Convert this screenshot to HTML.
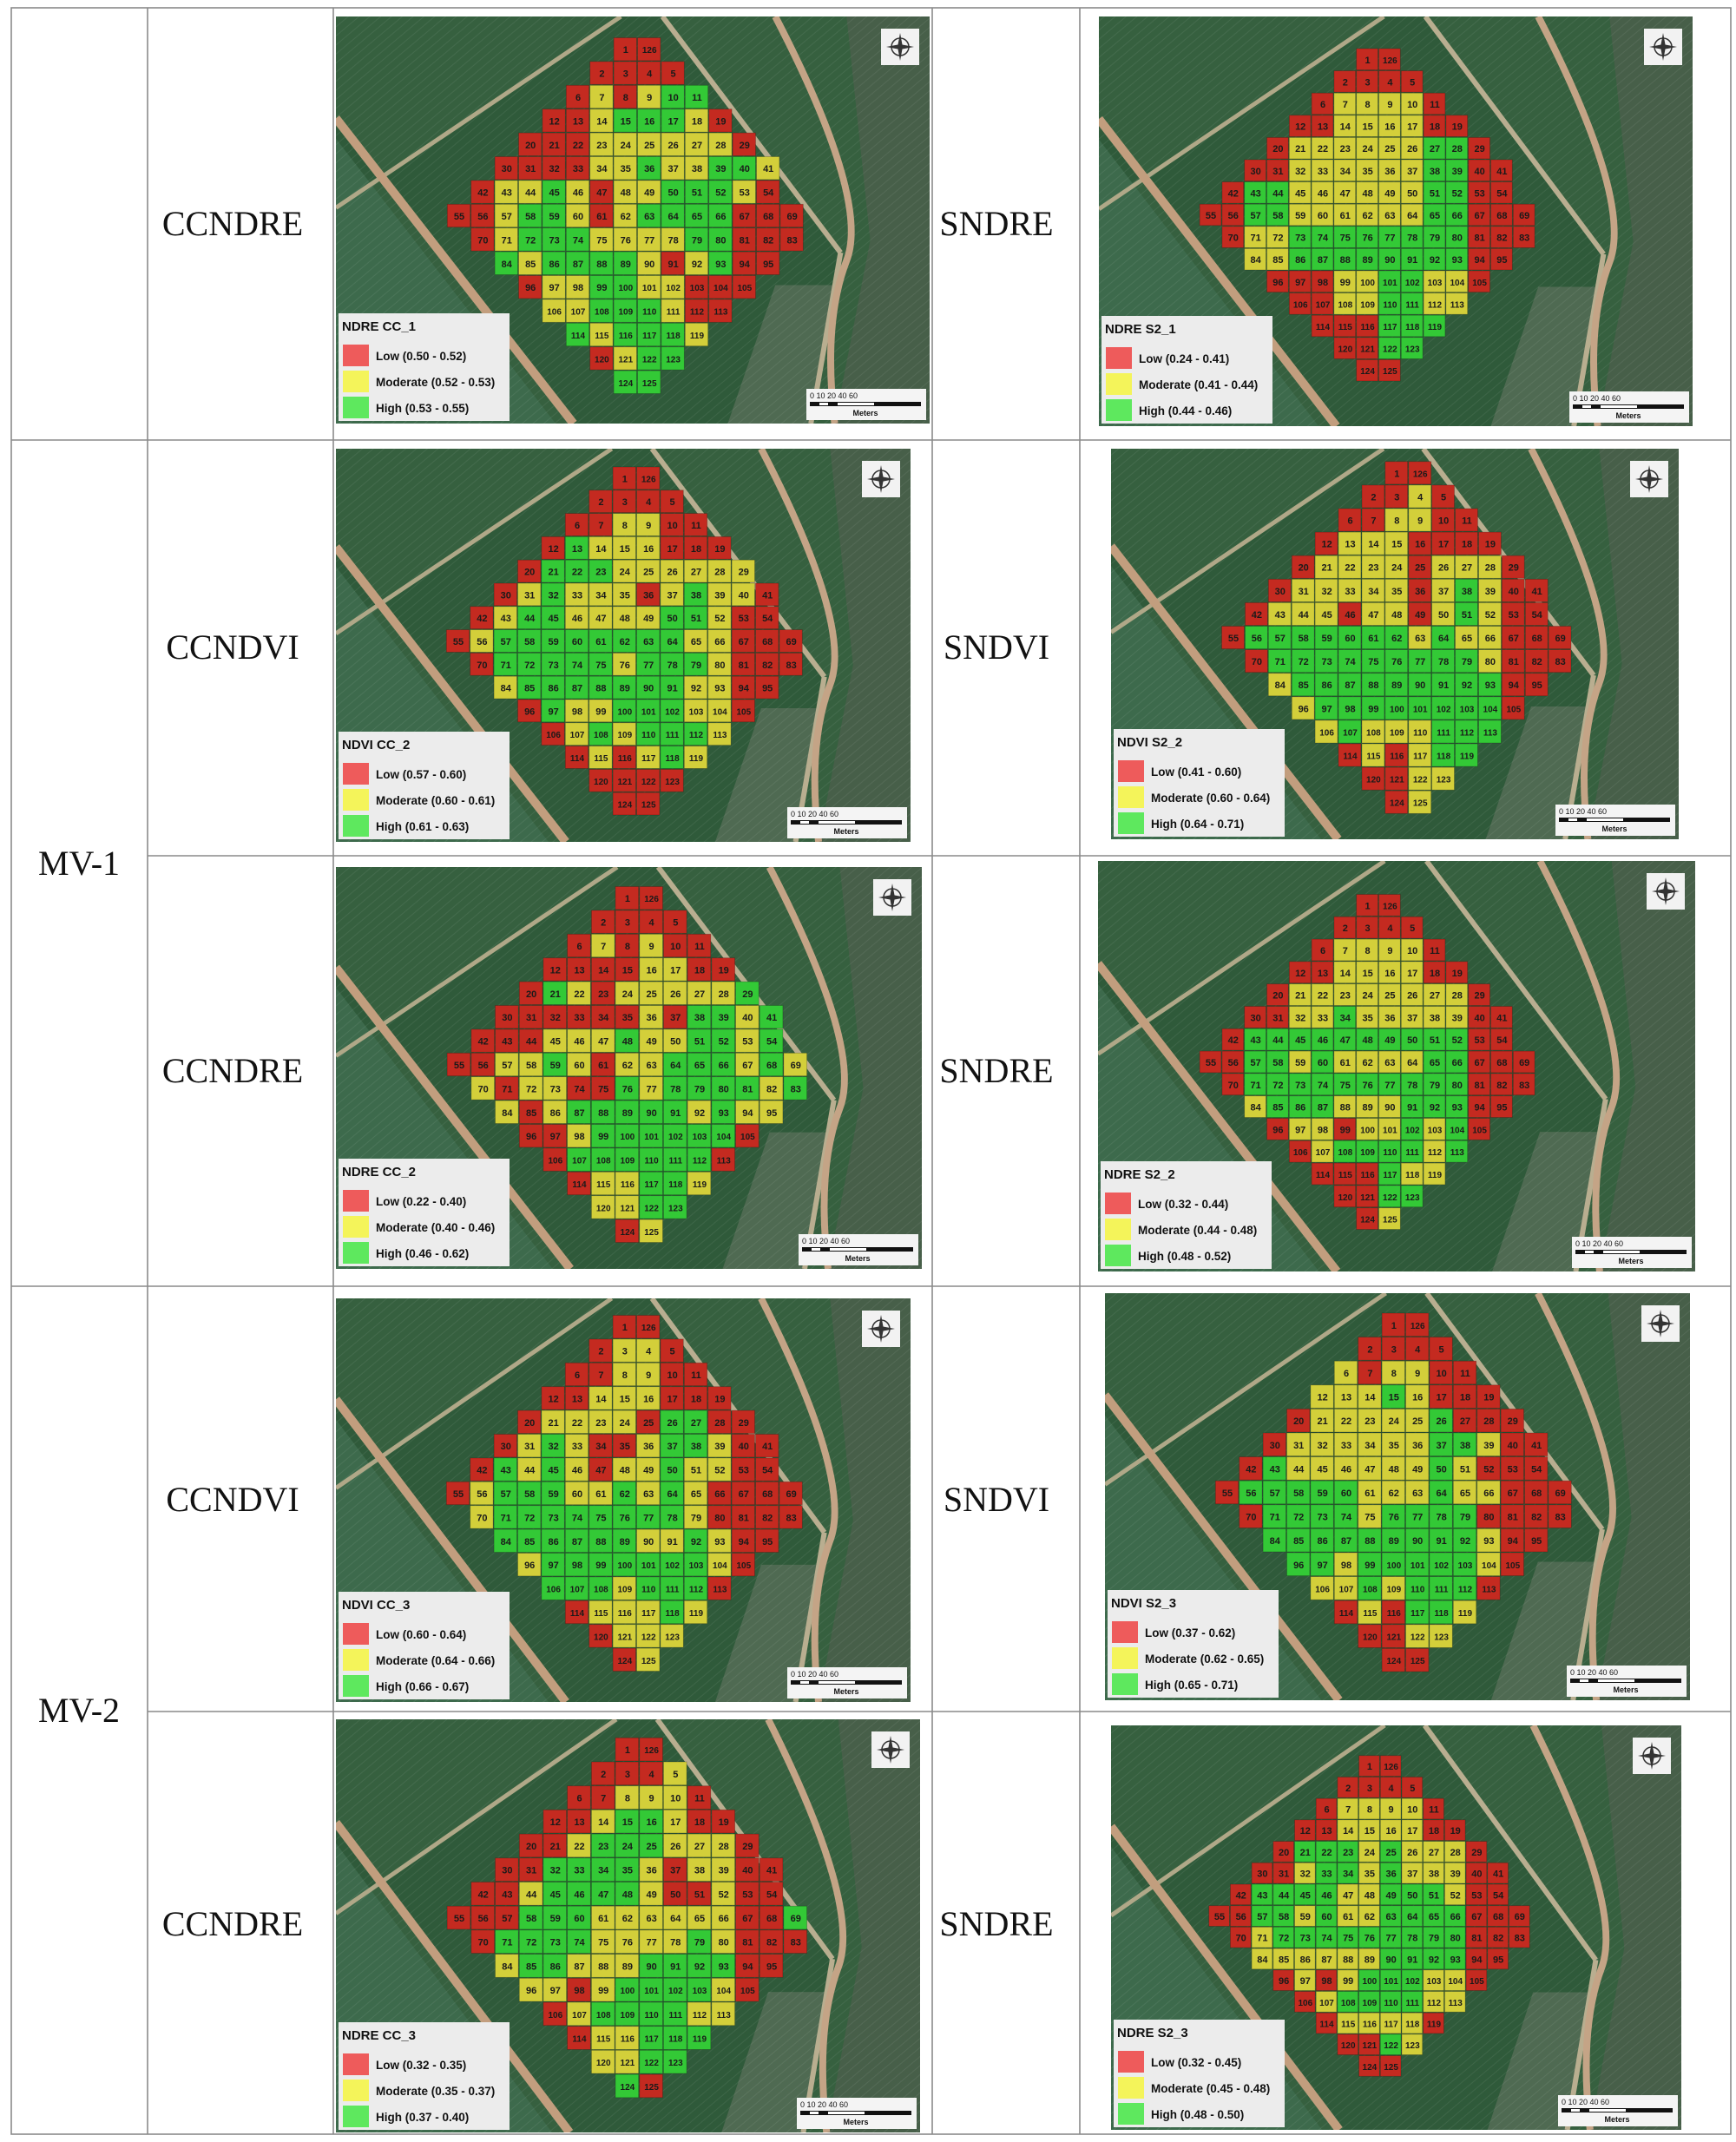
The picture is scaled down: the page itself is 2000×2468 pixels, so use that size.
<!DOCTYPE html>
<html><head><meta charset="utf-8"><title>NDRE / NDVI zone maps</title>
<style>
html,body{margin:0;padding:0;background:#fff;}
body{width:2000px;height:2468px;position:relative;overflow:hidden;font-family:"Liberation Sans",sans-serif;}
svg{position:absolute;left:0;top:0;}
</style></head>
<body>
<svg id="page" width="2000" height="2468" viewBox="0 0 2000 2468" xmlns="http://www.w3.org/2000/svg">
  <defs>
    <pattern id="rows" width="8" height="8" patternUnits="userSpaceOnUse" patternTransform="rotate(-40)">
      <rect width="8" height="8" fill="none"/>
      <line x1="0" y1="0" x2="8" y2="0" stroke="rgba(255,255,255,0.07)" stroke-width="2"/>
    </pattern>
  </defs>
  <g id="table-lines" stroke="#8a8a8a" stroke-width="1.6" fill="none">
    <rect x="13" y="9" width="1981" height="2450"/>
    <line x1="170" y1="9" x2="170" y2="2459"/>
    <line x1="384" y1="9" x2="384" y2="2459"/>
    <line x1="1074" y1="9" x2="1074" y2="2459"/>
    <line x1="1244" y1="9" x2="1244" y2="2459"/>
    <line x1="13" y1="507" x2="1994" y2="507"/>
    <line x1="170" y1="986" x2="1994" y2="986"/>
    <line x1="13" y1="1482" x2="1994" y2="1482"/>
    <line x1="170" y1="1972" x2="1994" y2="1972"/>
  </g>
  <g id="labels" font-family="Liberation Serif, serif" font-size="40" fill="#111" text-anchor="middle">
    <text x="91" y="1008">MV-1</text>
    <text x="91" y="1984">MV-2</text>
    <text x="268" y="271">CCNDRE</text>
    <text x="1148" y="271">SNDRE</text>
    <text x="268" y="759">CCNDVI</text>
    <text x="1148" y="759">SNDVI</text>
    <text x="268" y="1247">CCNDRE</text>
    <text x="1148" y="1247">SNDRE</text>
    <text x="268" y="1741">CCNDVI</text>
    <text x="1148" y="1741">SNDVI</text>
    <text x="268" y="2230">CCNDRE</text>
    <text x="1148" y="2230">SNDRE</text>
  </g>
  <g id="maps"></g>
</svg>
<script>
// ---- data: zone class per cell, row by row (R=Low, Y=Moderate, G=High) ----
const zonesCC1 = ["RR","RRRR","RYRYGG","RRYGGGYR","RRRYYYYYYR","RRRRYYGYYGGY","RYYGYRYYGGGYR","RRYGGYRYGGGGRRR","RYGGGYYYYGGRRR","GYGGGGYRYGRR","RYYGGYYRRR","YYGGGYRR","GYGGGY","RYGG","GG"];
const zonesS21 = ["RR","RRRR","RYYYYR","RRYYYYRR","RYYYYYYGGR","RRYYYYYYGGRR","RGGYYYYYYGGRR","RRGGYYYYYYGGRRR","RYYGGGGGGGGRRR","YYGGGGGGGGRR","RRRYYGGYYR","RRYYGGYY","RRRGGG","RRGG","RR"];
const zonesCC2v = ["RR","RRRR","RRYYRR","RGYYYRRR","RGGGYYYYYY","RYGYYYRYGYYR","RYGGYYYYGGYRR","RYGGGGGGGGYYRRR","RGGGGGYGGGYRRR","YGGGGGGGYYRR","RGYYGGGYYR","RYGYGGGY","RYRYGY","RRRR","RR"];
const zonesS22v = ["RR","RRYR","RRYYRR","RYYYRRRR","RYYYYRYYYR","RYYYYYRYGYRR","RYYYRYYRYGYRR","RGGGGGGGYGYYRRR","RGGGGGGGGGYRRR","YGGGGGGGGGRR","YGGGGGGGGR","YGYYYGGG","RYRYGG","RRYY","RY"];
const zonesCC2r = ["RR","RRRR","RYRYRR","RRRRYYRR","RGYRYYYYYG","RRRRRRYRGGYG","RRRYYYGYYGGYG","RRYYGYRYYGGGYGY","YRYYRRGYGGGGYG","YRYGGGGGYGYY","RRYGGGGGGR","RGGGGGGR","RYYGGY","YYGG","RY"];
const zonesS22r = ["RR","RRRR","RYYYYR","RRYYYYRR","RYYYYYYYYR","RRYYGYYYYYRR","RGGGGGGGGGGRR","RRGGYGYYYYGGRRR","RGGGGGGGGGGRRR","YGGGYYYGGGRR","RYYRYYGYGR","RYGGGGYG","RRRGYY","RRGG","RY"];
const zonesCC3v = ["RR","RYYR","RRYYRR","RRYYYRRR","RYYYYRGGRR","RYGYRRYGGYRR","RGYGYRYYGYYRR","RYGGGYYGYGYRRRR","YGGGGGGGGYRRRR","GGGGGGYYGYRR","YGGGGGGGYR","GGGYGGGR","RYYYGY","RYYY","RY"];
const zonesS23v = ["RR","RRRR","YRYYRR","YYYGYRRR","RYYYYYGRRR","RYYYYYYGGYRR","RGYYYYYYGYRRR","RGGGGGYYYGYYRRR","RGGGGYGGGGRRRR","GGGGGGGGGYRR","GGYGGGGGYR","YYGYGGGR","RYRGGY","RRYY","RR"];
const zonesCC3r = ["RR","RRRY","RRYYYR","RRYGGYRR","RRYGGGYYYR","RRGGGGYRYYRR","RRYGGGGYRRYRR","RRRGGGYYYYYYRRG","RGGGGYYYYGYRRR","YGGYYYGGGGRR","YYRYGGGGYR","RYGGGGYY","RYYGGG","YYGG","GR"];
const zonesS23r = ["RR","RRRR","RYYYYR","RRYYYYRR","RGGGYGYYYR","RRYGGYGYYYRR","RGGGGYYGGGYRR","RRGGYGYYGGGGRRR","RYGGGGGGGGGRRR","YYYYYYGGGGRR","RYRYGGGYYR","RYGGGGYY","RYYYYR","RRGY","RR"];

const legendTitles = ["NDRE CC_1","NDRE S2_1","NDVI CC_2","NDVI S2_2","NDRE CC_2","NDRE S2_2","NDVI CC_3","NDVI S2_3","NDRE CC_3","NDRE S2_3"];
const legendLow = ["Low (0.50 - 0.52)","Low (0.24 - 0.41)","Low (0.57 - 0.60)","Low (0.41 - 0.60)","Low (0.22 - 0.40)","Low (0.32 - 0.44)","Low (0.60 - 0.64)","Low (0.37 - 0.62)","Low (0.32 - 0.35)","Low (0.32 - 0.45)"];
const legendMod = ["Moderate (0.52 - 0.53)","Moderate (0.41 - 0.44)","Moderate (0.60 - 0.61)","Moderate (0.60 - 0.64)","Moderate (0.40 - 0.46)","Moderate (0.44 - 0.48)","Moderate (0.64 - 0.66)","Moderate (0.62 - 0.65)","Moderate (0.35 - 0.37)","Moderate (0.45 - 0.48)"];
const legendHigh = ["High (0.53 - 0.55)","High (0.44 - 0.46)","High (0.61 - 0.63)","High (0.64 - 0.71)","High (0.46 - 0.62)","High (0.48 - 0.52)","High (0.66 - 0.67)","High (0.65 - 0.71)","High (0.37 - 0.40)","High (0.48 - 0.50)"];

const allZones = [zonesCC1,zonesS21,zonesCC2v,zonesS22v,zonesCC2r,zonesS22r,zonesCC3v,zonesS23v,zonesCC3r,zonesS23r];

// layout (not data): panel frame + grid anchor (centre of cell 55) + pitch
const panels = [
 {x:387,y:19,w:684,h:469,cx:529,cy:249,ph:27.4,pv:27.4},
 {x:1266,y:19,w:684,h:472,cx:1395,cy:248,ph:25.8,pv:25.6},
 {x:387,y:517,w:662,h:453,cx:528,cy:739,ph:27.4,pv:26.8},
 {x:1280,y:517,w:654,h:450,cx:1421,cy:735,ph:26.9,pv:27.1},
 {x:387,y:999,w:675,h:463,cx:529,cy:1227,ph:27.7,pv:27.4},
 {x:1265,y:992,w:688,h:473,cx:1395,cy:1224,ph:25.8,pv:25.8},
 {x:387,y:1496,w:662,h:465,cx:528,cy:1721,ph:27.4,pv:27.4},
 {x:1273,y:1490,w:674,h:469,cx:1414,cy:1720,ph:27.4,pv:27.6},
 {x:387,y:1981,w:673,h:476,cx:529,cy:2210,ph:27.7,pv:27.7},
 {x:1280,y:1988,w:657,h:466,cx:1405,cy:2208,ph:24.7,pv:24.7}
];
const rowStart = [7,6,5,4,3,2,1,0,1,2,3,4,5,6,7];
const cellFill = {R:"#c42a20",Y:"#d3cf3a",G:"#33c936"};
const NS = "http://www.w3.org/2000/svg";
function mk(tag, attrs, parent){const e=document.createElementNS(NS,tag);for(const k in attrs)e.setAttribute(k,attrs[k]);if(parent)parent.appendChild(e);return e;}

const maps = document.getElementById('maps');
panels.forEach((p, pi) => {
  const g = mk('g', {}, maps);
  
  
  const clipId = 'clip' + pi;
  const cp = mk('clipPath', {id: clipId}, g);
  mk('rect', {x:p.x, y:p.y, width:p.w, height:p.h}, cp);
  const bg = mk('g', {'clip-path':'url(#'+clipId+')'}, g);
  
  
  const X = f => p.x + f*p.w, Y = f => p.y + f*p.h;
  mk('rect', {x:p.x, y:p.y, width:p.w, height:p.h, fill:'#36603f'}, bg);
  mk('polygon', {points:`${X(0)},${Y(0.47)} ${X(0.48)},${Y(0)} ${X(0.55)},${Y(0)} ${X(0.85)},${Y(0.58)} ${X(0.8)},${Y(1)} ${X(0.4)},${Y(1)} ${X(0)},${Y(0.25)}`, fill:'#2f5a3a'}, bg);
  mk('polygon', {points:`${X(0)},${Y(0.3)} ${X(0.37)},${Y(1)} ${X(0)},${Y(1)}`, fill:'#3d6a4c'}, bg);
  mk('polygon', {points:`${X(0.86)},${Y(0)} ${X(1)},${Y(0)} ${X(1)},${Y(1)} ${X(0.84)},${Y(1)} ${X(0.9)},${Y(0.55)}`, fill:'#475f49'}, bg);
  mk('polygon', {points:`${X(0.74)},${Y(0.66)} ${X(0.84)},${Y(0.66)} ${X(0.8)},${Y(1)} ${X(0.66)},${Y(1)}`, fill:'#4f6a52'}, bg);
  mk('rect', {x:p.x, y:p.y, width:p.w, height:p.h, fill:'url(#rows)'}, bg);
  mk('line', {x1:X(0.48), y1:Y(0), x2:X(0), y2:Y(0.47), stroke:'#b0a888', 'stroke-width':5}, bg);
  mk('line', {x1:X(0), y1:Y(0.25), x2:X(0.4), y2:Y(1), stroke:'#c29e7e', 'stroke-width':10}, bg);
  mk('line', {x1:X(0.55), y1:Y(0), x2:X(0.85), y2:Y(0.58), stroke:'#b9ae90', 'stroke-width':6}, bg);
  mk('line', {x1:X(0.85), y1:Y(0.58), x2:X(0.8), y2:Y(1), stroke:'#b9ae90', 'stroke-width':6}, bg);
  mk('path', {d:`M${X(0.74)},${Y(0)} Q${X(0.9)},${Y(0.45)} ${X(0.86)},${Y(0.6)} T${X(0.84)},${Y(1)}`, fill:'none', stroke:'#c4a486', 'stroke-width':8}, bg);

  // grid cells
  const zones = allZones[pi];
  const cells = mk('g', {}, g);
  
  
  let num = 2;
  zones.forEach((row, r) => {
    for (let c = 0; c < row.length; c++) {
      let label;
      if (r === 0) label = c === 0 ? 1 : 126;
      else if (r === 14) label = c === 0 ? 124 : 125;
      else label = num++;
      const col = rowStart[r] + c;
      const cx = p.cx + col*p.ph, cy = p.cy + (r-7)*p.pv;
      const rect = mk('rect', {x:(cx-p.ph/2).toFixed(1), y:(cy-p.pv/2).toFixed(1), width:(p.ph-1).toFixed(1), height:(p.pv-1).toFixed(1), fill:cellFill[row[c]], stroke:'rgba(0,0,0,0.25)', 'stroke-width':0.8}, cells);
      
      
      const t = mk('text', {x:cx.toFixed(1), y:(cy+4).toFixed(1), 'text-anchor':'middle', 'font-size': label>99?10:11, 'font-weight':'bold', fill:'#1a1a1a'}, cells);
      
      
      t.textContent = label;
    }
  });

  // legend
  const lx = p.x + 3, lw = 197, lh = 124, ly = p.y + p.h - lh - 3;
  const lg = mk('g', {}, g);
  
  
  mk('rect', {x:lx, y:ly, width:lw, height:lh, fill:'#ececec'}, lg);
  const tt = mk('text', {x:lx+4, y:ly+20, 'font-size':15, 'font-weight':'bold', fill:'#111'}, lg);
  
  
  tt.textContent = legendTitles[pi];
  const entries = [[legendLow[pi],'#ee5b5b'],[legendMod[pi],'#f4f45a'],[legendHigh[pi],'#5ee85e']];
  entries.forEach((e, i) => {
    const sy = ly + 36 + i*30;
    const sw = mk('rect', {x:lx+5, y:sy, width:30, height:25, fill:e[1]}, lg);
    
    
    const lt = mk('text', {x:lx+43, y:sy+18, 'font-size':13.5, 'font-weight':'bold', fill:'#111'}, lg);
    
    
    lt.textContent = e[0];
  });

  // compass
  const cg = mk('g', {}, g);
  
  
  const kx = p.x + p.w - 56, ky = p.y + 14;
  mk('rect', {x:kx, y:ky, width:44, height:42, fill:'#f2f2f2'}, cg);
  mk('circle', {cx:kx+22, cy:ky+21, r:10, fill:'none', stroke:'#333', 'stroke-width':1.5}, cg);
  mk('polygon', {points:`${kx+22},${ky+5} ${kx+25},${ky+21} ${kx+22},${ky+37} ${kx+19},${ky+21}`, fill:'#333'}, cg);
  mk('polygon', {points:`${kx+6},${ky+21} ${kx+22},${ky+18} ${kx+38},${ky+21} ${kx+22},${ky+24}`, fill:'#333'}, cg);

  // scale bar
  const sg = mk('g', {}, g);
  
  
  const bx = p.x + p.w - 142, by = p.y + p.h - 40;
  mk('rect', {x:bx, y:by, width:138, height:36, fill:'#f4f4f4'}, sg);
  mk('rect', {x:bx+4, y:by+15, width:128, height:5, fill:'#111'}, sg);
  mk('rect', {x:bx+15, y:by+16, width:10, height:3, fill:'#fff'}, sg);
  mk('rect', {x:bx+36, y:by+16, width:42, height:3, fill:'#fff'}, sg);
  const st = mk('text', {x:bx+4, y:by+11, 'font-size':9, fill:'#111', 'xml:space':'preserve'}, sg);
  
  
  st.textContent = '0   10  20          40          60';
  const sm = mk('text', {x:bx+68, y:by+31, 'font-size':9, 'font-weight':'bold', 'text-anchor':'middle', fill:'#111'}, sg);
  
  
  sm.textContent = 'Meters';
});
</script>
</body></html>
